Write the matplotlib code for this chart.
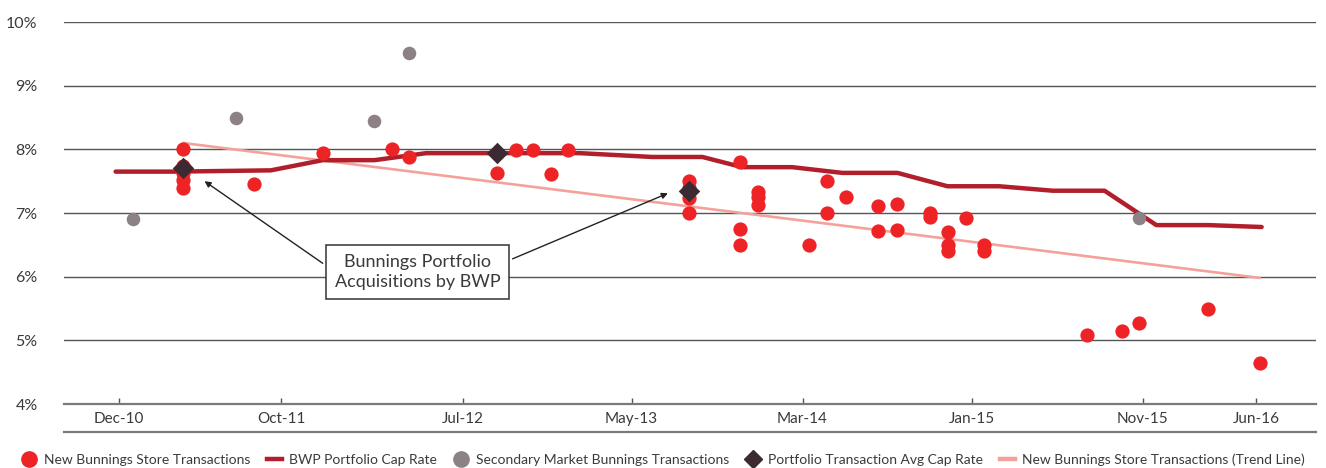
"""Bunnings cap rate history: transactions vs BWP portfolio cap rate."""

import matplotlib
matplotlib.use("Agg")
import matplotlib.pyplot as plt
from matplotlib.lines import Line2D

# x values are months after Dec-10
TICK_MONTHS = [0, 9.4, 19.9, 29.7, 39.6, 49.4, 59.3, 65.9]
TICK_LABELS = ["Dec-10", "Oct-11", "Jul-12", "May-13", "Mar-14", "Jan-15", "Nov-15", "Jun-16"]
Y_TICKS = [4, 5, 6, 7, 8, 9, 10]

new_store_months = [
    3.7, 3.7, 3.7, 3.7, 3.7, 7.8, 11.8, 15.8, 16.8, 21.9, 23.0, 24.0, 25.0, 26.0,
    33.0, 33.0, 33.0, 33.0, 36.0, 36.0, 36.0, 37.0, 37.0, 37.0, 40.0, 41.0, 41.0,
    42.1, 44.0, 44.0, 45.1, 45.1, 47.0, 47.0, 48.0, 48.0, 48.0, 49.1, 50.1, 50.1,
    56.1, 58.1, 59.1, 63.1, 66.1,
]
new_store_rates = [
    8.00, 7.74, 7.63, 7.52, 7.39, 7.45, 7.95, 8.00, 7.88, 7.63, 7.99, 7.99, 7.61, 7.99,
    7.50, 7.40, 7.23, 7.00, 7.80, 6.75, 6.50, 7.33, 7.25, 7.12, 6.50, 7.50, 7.00,
    7.25, 7.11, 6.72, 7.14, 6.74, 7.00, 6.94, 6.70, 6.50, 6.40, 6.92, 6.50, 6.40,
    5.08, 5.15, 5.27, 5.49, 4.65,
]

bwp_months = [-0.2, 3.2, 8.8, 11.8, 14.8, 17.8, 26.7, 30.9, 33.8, 36.1,
              39.0, 41.9, 45.1, 48.0, 51.0, 54.1, 57.1, 60.1, 63.1, 66.2]
bwp_rates = [7.65, 7.65, 7.67, 7.83, 7.83, 7.94, 7.94, 7.88, 7.88, 7.72,
             7.72, 7.63, 7.63, 7.42, 7.42, 7.35, 7.35, 6.81, 6.81, 6.78]

secondary_months = [0.8, 6.8, 14.8, 16.8, 59.1]
secondary_rates = [6.90, 8.50, 8.44, 9.51, 6.92]

portfolio_months = [3.7, 21.9, 33.0]
portfolio_rates = [7.70, 7.94, 7.34]

trend_months = [3.7, 66.1]
trend_rates = [8.10, 5.98]

RED = "#EE2326"
DARK_RED = "#B01F2B"
GREY = "#8C8185"
DIAMOND = "#3B2A31"
SALMON = "#F5A19B"
TEXT = "#3a3a3a"

plt.rcParams["font.family"] = ["Lato", "DejaVu Sans"]

fig = plt.figure(figsize=(13.26, 4.68), dpi=100)
ax = fig.add_axes([64 / 1326, 1 - 404 / 468, (1316 - 64) / 1326, (404 - 22) / 468])

for y in Y_TICKS[1:]:
    ax.axhline(y, color="#555555", lw=1.0, zorder=1)

ax.plot(trend_months, trend_rates, color=SALMON, lw=1.9, zorder=2,
        solid_capstyle="round")
ax.plot(bwp_months, bwp_rates, color=DARK_RED, lw=3.2, zorder=3,
        solid_capstyle="round", solid_joinstyle="round")
ax.scatter(new_store_months, new_store_rates, s=105, color=RED, lw=0, zorder=4)
ax.scatter(secondary_months, secondary_rates, s=95, color=GREY, lw=0, zorder=4)
ax.scatter(portfolio_months, portfolio_rates, s=120, marker="D", color=DIAMOND,
           lw=0, zorder=5)

ax.text(17.3, 6.07, "Bunnings Portfolio\nAcquisitions by BWP", ha="center",
        va="center", fontsize=13, color=TEXT, linespacing=1.3, zorder=6,
        bbox=dict(boxstyle="square,pad=0.5", fc="white", ec="#333333", lw=1.1))
arrow = dict(arrowstyle="-|>", color="#222222", lw=1.0, mutation_scale=9,
             shrinkA=0, shrinkB=0)
ax.annotate("", xy=(4.95, 7.50), xytext=(11.8, 6.21), arrowprops=arrow, zorder=6)
ax.annotate("", xy=(31.8, 7.31), xytext=(22.8, 6.28), arrowprops=arrow, zorder=6)

ax.set_xlim(-3.19, 69.35)
ax.set_ylim(4, 10)
ax.set_yticks(Y_TICKS, [f"{v}%" for v in Y_TICKS])
ax.set_xticks(TICK_MONTHS, TICK_LABELS)
ax.tick_params(axis="y", length=0, pad=19, labelsize=11.5, labelcolor=TEXT)
ax.tick_params(axis="x", direction="in", length=4, width=1, color="#555555",
               pad=6, labelsize=11, labelcolor=TEXT)
for side in ("top", "right", "left"):
    ax.spines[side].set_visible(False)
ax.spines["bottom"].set_color("#7a7a7a")
ax.spines["bottom"].set_linewidth(1.6)
ax.add_line(Line2D([0, 1], [-0.073, -0.073], transform=ax.transAxes,
                   color="#7a7a7a", lw=1.6, clip_on=False))

handles = [
    Line2D([], [], ls="none", marker="o", ms=11, color=RED),
    Line2D([], [], color=DARK_RED, lw=3.2),
    Line2D([], [], ls="none", marker="o", ms=11, color=GREY),
    Line2D([], [], ls="none", marker="D", ms=9, color=DIAMOND),
    Line2D([], [], color=SALMON, lw=3.2),
]
labels = [
    "New Bunnings Store Transactions",
    "BWP Portfolio Cap Rate",
    "Secondary Market Bunnings Transactions",
    "Portfolio Transaction Avg Cap Rate",
    "New Bunnings Store Transactions (Trend Line)",
]
fig.legend(handles, labels, loc="center", bbox_to_anchor=(0.5, 0.018), ncol=5,
           frameon=False, fontsize=10, labelcolor=TEXT, handlelength=1.1,
           handletextpad=0.5, columnspacing=1.2, borderpad=0)

fig.savefig("out.png", dpi=100)
